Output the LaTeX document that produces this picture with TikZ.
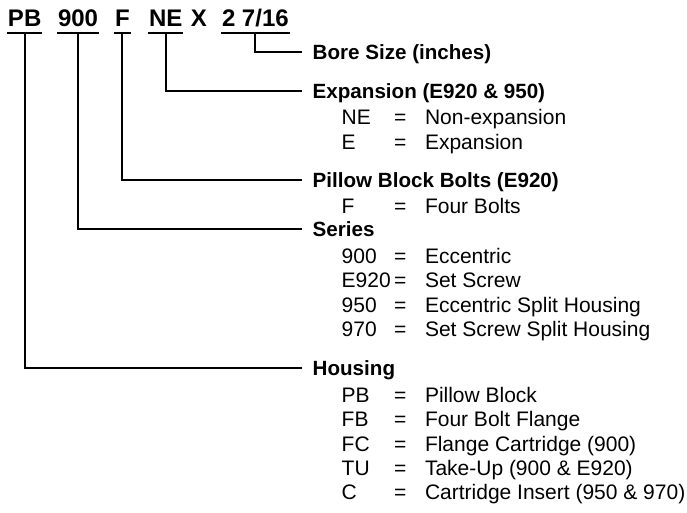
\documentclass[tikz,border=0pt]{standalone}
\usepackage{fontspec}
\setmainfont{Liberation Sans}
\usetikzlibrary{positioning}

\tikzset{
  code/.style={anchor=base west,inner sep=0pt,text depth=2.5pt,font=\fontsize{12}{14}\selectfont\bfseries},
  head/.style={anchor=west,inner xsep=5pt,inner ysep=0pt,text height=7.4pt,text depth=0pt,font=\fontsize{10.3}{12}\selectfont\bfseries},
  item/.style={anchor=base west,inner sep=0pt,font=\fontsize{10.5}{12}\selectfont},
}

\begin{document}
\begin{tikzpicture}[x=0.5pt,y=-0.5pt,line width=1pt]
\useasboundingbox (0,0) rectangle (687,513);
% part number
\node[code] (pb) at (7,27) {PB};
\node[code] (ser) at (57,27) {900};
\node[code] (bolt) at (114,27) {F};
\node[code] (exp) at (148,27) {NE};
\node[code] (x) at (190,27) {X};
\node[code] (bore) at (221,27) {2 7/16};
\foreach \n in {pb,ser,bolt,exp,bore}
  \draw (\n.south west) -- (\n.south east);

% headings
\node[head] (hbore) at (301.7,52) {Bore Size (inches)};
\node[head] (hexp) at (301.7,91) {Expansion (E920 \& 950)};
\node[head] (hbolt) at (301.7,180) {Pillow Block Bolts (E920)};
\node[head] (hser) at (301.7,229.5) {Series};
\node[head] (hpb) at (301.7,368.5) {Housing};
\draw (bore.south) |- (hbore.west);
\draw (exp.south) |- (hexp.west);
\draw (bolt.south) |- (hbolt.west);
\draw (ser.south) |- (hser.west);
\draw (pb.south) |- (hpb.west);

% codes
\foreach \y/\c/\d [count=\i] in {
  125/NE/Non-expansion, 149.5/E/Expansion,
  214/F/Four Bolts,
  263.5/900/Eccentric, 288/E920/Set Screw, 312.3/950/Eccentric Split Housing, 336.7/970/Set Screw Split Housing,
  402.5/PB/Pillow Block, 427/FB/Four Bolt Flange, 451.3/FC/Flange Cartridge (900),
  475.7/TU/Take-Up (900 \& E920), 500/C/Cartridge Insert (950 \& 970)} {
  \node[item] (c\i) at (340.7,\y) {\c};
  \node[item] (q\i) at (393,\y) {=};
  \node[item] (d\i) at (424,\y) {\d};
}
\end{tikzpicture}
\end{document}
